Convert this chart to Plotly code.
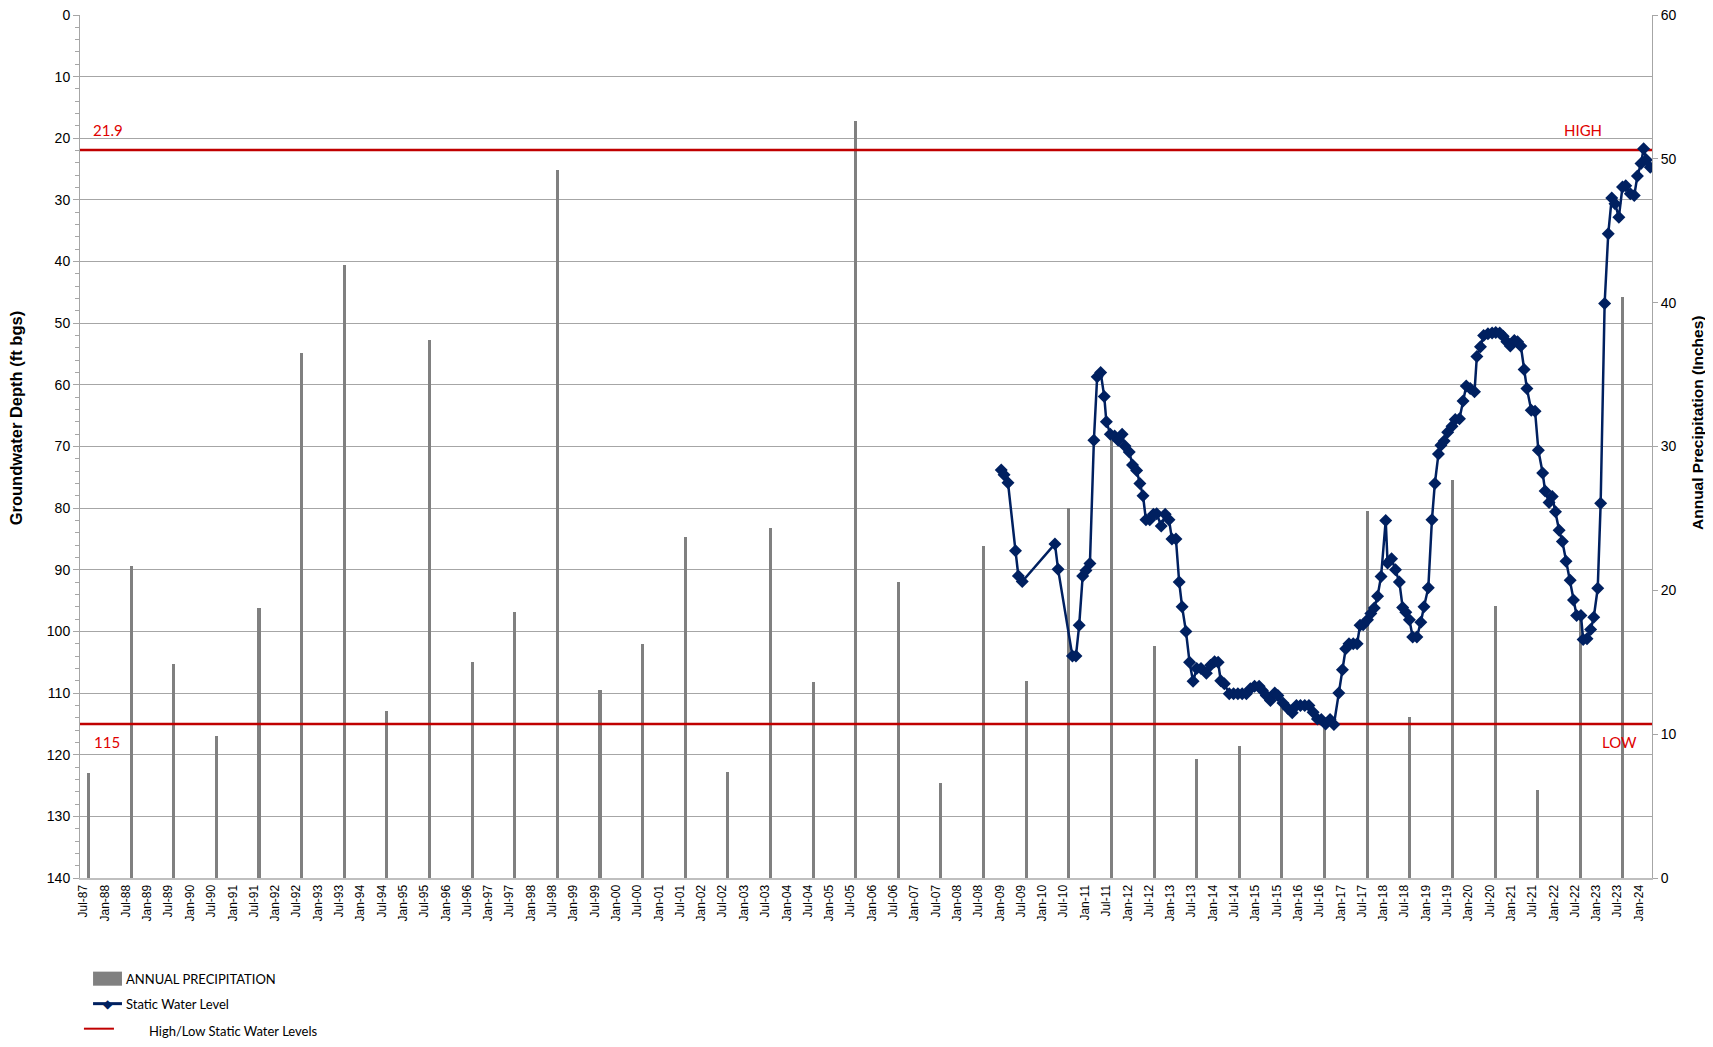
import plotly.graph_objects as go

# ---------------- data ----------------
precip_years = list(range(1987, 2024))
precip_dates = [f"{y}-08-15" for y in precip_years]
precip_inches = [7.3, 21.7, 14.9, 9.9, 18.8, 36.5, 42.6, 11.6, 37.4, 15.0,
                 18.5, 49.2, 13.1, 16.3, 23.7, 7.4, 24.3, 13.6, 52.6, 20.6,
                 6.6, 23.1, 13.7, 25.7, 30.6, 16.1, 8.3, 9.2, 12.0, 11.0,
                 25.5, 11.2, 27.7, 18.9, 6.1, 18.2, 40.4]

swl_dates = [
    "2009-01-13", "2009-02-06", "2009-03-12", "2009-05-15", "2009-06-09", "2009-07-12",
    "2010-04-18", "2010-05-15", "2010-09-15", "2010-10-15", "2010-11-12", "2010-12-12",
    "2011-01-09", "2011-02-12", "2011-03-18", "2011-04-15", "2011-05-15", "2011-06-15",
    "2011-07-03", "2011-08-06", "2011-09-12", "2011-10-12", "2011-11-15", "2011-12-09",
    "2012-01-15", "2012-02-12", "2012-03-18", "2012-04-15", "2012-05-12", "2012-06-06",
    "2012-07-09", "2012-08-09", "2012-09-06", "2012-10-15", "2012-11-18", "2012-12-21",
    "2013-01-15", "2013-02-18", "2013-03-18", "2013-04-12", "2013-05-15", "2013-06-15",
    "2013-07-15", "2013-08-15", "2013-09-21", "2013-11-06", "2013-12-12",
    "2014-01-15", "2014-02-15", "2014-03-09", "2014-04-09", "2014-05-21", "2014-06-27",
    "2014-08-03", "2014-09-09", "2014-10-15", "2014-11-18", "2014-12-24",
    "2015-02-01", "2015-03-01", "2015-04-03", "2015-05-09", "2015-06-15", "2015-07-12",
    "2015-08-24", "2015-10-06", "2015-11-12", "2015-12-18",
    "2016-01-21", "2016-02-27", "2016-04-03", "2016-05-09", "2016-06-15", "2016-07-18",
    "2016-08-24", "2016-10-01", "2016-11-03", "2016-12-15",
    "2017-01-15", "2017-02-12", "2017-03-12", "2017-04-18", "2017-05-21", "2017-06-15",
    "2017-07-12", "2017-08-18", "2017-09-15", "2017-10-15", "2017-11-12", "2017-12-12",
    "2018-01-21", "2018-02-06", "2018-03-12", "2018-04-15", "2018-05-18", "2018-06-15",
    "2018-07-12", "2018-08-12", "2018-09-09", "2018-10-15", "2018-11-18", "2018-12-15",
    "2019-01-21", "2019-02-21", "2019-03-18", "2019-04-18", "2019-05-09", "2019-06-06",
    "2019-07-06", "2019-08-12", "2019-09-09", "2019-10-15", "2019-11-15", "2019-12-12",
    "2020-01-15", "2020-02-21", "2020-03-12", "2020-04-12", "2020-05-09", "2020-06-15",
    "2020-07-21", "2020-08-21", "2020-09-24", "2020-10-24", "2020-11-24", "2020-12-24",
    "2021-01-27", "2021-02-24", "2021-03-24", "2021-04-21", "2021-05-15", "2021-06-21",
    "2021-07-24", "2021-08-21", "2021-09-27", "2021-10-18", "2021-11-21", "2021-12-18",
    "2022-01-15", "2022-02-15", "2022-03-15", "2022-04-15", "2022-05-21", "2022-06-18",
    "2022-07-15", "2022-08-21", "2022-09-09", "2022-10-12", "2022-11-12", "2022-12-09",
    "2023-01-12", "2023-02-06", "2023-03-12", "2023-04-12", "2023-05-12", "2023-06-09",
    "2023-07-12", "2023-08-12", "2023-09-09", "2023-10-18", "2023-11-21", "2023-12-18",
    "2024-01-18", "2024-02-09", "2024-03-03", "2024-04-06",
]
swl_depth_ft = [
    73.8, 74.6, 75.9, 86.9, 91.0, 91.9,
    85.8, 89.9, 104.0, 104.0, 99.0, 91.0,
    90.1, 89.0, 69.0, 58.7, 58.0, 61.9,
    66.0, 68.0, 68.3, 69.0, 68.0, 69.9,
    70.9, 73.0, 73.9, 76.0, 78.0, 81.9,
    81.9, 81.0, 80.9, 82.9, 81.0, 81.9,
    85.0, 85.0, 92.0, 96.0, 100.0, 105.0,
    108.1, 106.0, 106.0, 106.8, 105.5,
    104.9, 105.0, 108.0, 108.5, 110.1, 110.1,
    110.1, 110.1, 110.1, 109.3, 108.9,
    108.9, 109.6, 110.4, 111.2, 110.0, 110.4,
    111.6, 112.5, 113.2, 112.0,
    112.0, 112.0, 112.0, 113.1, 114.2, 114.3,
    115.0, 114.3, 115.1, 110.0,
    106.2, 102.8, 102.0, 102.0, 102.0, 99.0,
    98.9, 98.1, 97.1, 96.2, 94.3, 91.1,
    82.0, 88.9, 88.2, 90.0, 92.0, 96.1,
    96.9, 98.1, 100.9, 100.9, 98.5, 96.0,
    92.9, 81.9, 76.0, 71.2, 69.8, 69.1,
    67.7, 66.7, 65.6, 65.5, 62.6, 60.2,
    60.6, 61.1, 55.4, 53.8, 52.0, 51.7,
    51.6, 51.5, 51.6, 52.1, 53.0, 53.7,
    52.8, 53.0, 53.7, 57.5, 60.6, 64.1,
    64.3, 70.6, 74.3, 77.2, 79.1, 78.1,
    80.6, 83.6, 85.4, 88.6, 91.7, 94.9,
    97.4, 97.4, 101.3, 101.2, 99.7, 97.7,
    93.0, 79.2, 46.8, 35.5, 29.7, 30.6,
    32.8, 27.9, 27.7, 29.0, 29.3, 26.1,
    24.1, 21.7, 23.5, 24.7,
]

level_values = [21.9, 115]
level_labels_left = ["21.9", "115"]
level_labels_right = ["HIGH", "LOW"]

legend_labels = ["ANNUAL PRECIPITATION", "Static Water Level", "High/Low Static Water Levels"]

x_start, x_end = "1987-06-03", "2024-04-21"
depth_range = [140, 0]
precip_range = [0, 60]

# ---------------- styles ----------------
NAVY = "#002060"
GRAY_BAR = "#808080"
RED = "#C00000"
RED_TXT = "#E00000"
GRID = "#A6A6A6"
TICKFONT = "Liberation Sans, Arial, sans-serif"
TEXTFONT = "Lato, sans-serif"

fig = go.Figure()

fig.add_trace(go.Bar(
    x=precip_dates, y=precip_inches, name=legend_labels[0],
    marker=dict(color=GRAY_BAR, line=dict(width=0)),
    width=2.3e9, yaxis="y",
))

# high / low lines spanning the whole axis
lx, ly = [], []
for v in level_values:
    lx += [x_start, x_end, None]
    ly += [v, v, None]
fig.add_trace(go.Scatter(
    x=lx, y=ly, mode="lines", line=dict(color=RED, width=2.5),
    name=legend_labels[2], yaxis="y2", hoverinfo="skip",
))

fig.add_trace(go.Scatter(
    x=swl_dates, y=swl_depth_ft, mode="lines+markers", name=legend_labels[1],
    line=dict(color=NAVY, width=2.5),
    marker=dict(symbol="diamond", size=10, color=NAVY),
    yaxis="y2",
))

annotations = []
left_x = [0.0068, 0.0074]
right_x = [0.9695, 0.9917]
for i, v in enumerate(level_values):
    above = v < 50
    common = dict(yref="y2", y=v, showarrow=False, xref="paper",
                  yanchor="bottom" if above else "top",
                  yshift=9 if above else -7,
                  font=dict(color=RED_TXT, size=15, family=TEXTFONT))
    annotations.append(dict(x=left_x[i], text=level_labels_left[i], xanchor="left", **common))
    annotations.append(dict(x=right_x[i], text=level_labels_right[i], xanchor="right", **common))

annotations.append(dict(x=-0.0405, xref="paper", y=0.533, yref="paper",
                        xanchor="center", yanchor="middle",
                        text="<b>Groundwater Depth (ft bgs)</b>", textangle=-90,
                        showarrow=False, font=dict(size=16.5, family=TICKFONT, color="#000")))
annotations.append(dict(x=1.0285, xref="paper", y=0.527, yref="paper",
                        xanchor="center", yanchor="middle",
                        text="<b>Annual Precipitation (Inches)</b>", textangle=-90,
                        showarrow=False, font=dict(size=15.5, family=TICKFONT, color="#000")))

# ----- hand-built legend (below the plot, like the original) -----
leg_font = dict(size=13, family=TEXTFONT, color="#000")
leg_text_x = [0.0277, 0.0277, 0.0429]
leg_text_y = [-0.1166, -0.1456, -0.1769]
for t, xx, yy in zip(legend_labels, leg_text_x, leg_text_y):
    annotations.append(dict(x=xx, y=yy, xref="paper", yref="paper", text=t,
                            xanchor="left", yanchor="middle", showarrow=False,
                            font=leg_font))
annotations.append(dict(x=0.0175, y=-0.1456, xref="paper", yref="paper", text="◆",
                        xanchor="center", yanchor="middle", showarrow=False,
                        font=dict(size=12, color=NAVY, family="DejaVu Sans")))

shapes = [
    dict(type="rect", xref="paper", yref="paper", x0=0.0083, x1=0.0267,
         y0=-0.1248, y1=-0.1085, fillcolor=GRAY_BAR, line=dict(width=0)),
    dict(type="line", xref="paper", yref="paper", x0=0.0083, x1=0.0267,
         y0=-0.1456, y1=-0.1456, line=dict(color=NAVY, width=3)),
    dict(type="line", xref="paper", yref="paper", x0=0.0025, x1=0.0216,
         y0=-0.1746, y1=-0.1746, line=dict(color=RED, width=2)),
]

fig.update_layout(
    width=1697, height=1031,
    margin=dict(l=72, r=53, t=7, b=161, autoexpand=False),
    paper_bgcolor="white", plot_bgcolor="white",
    bargap=0,
    showlegend=False,
    annotations=annotations,
    shapes=shapes,
    xaxis=dict(
        type="date", range=[x_start, x_end],
        tick0="1987-07-01", dtick="M6", tickformat="%b-%y",
        tickangle=-90, ticks="", showgrid=False,
        showline=True, linecolor="#BFBFBF", linewidth=2,
        tickfont=dict(size=12, family=TICKFONT, color="#000"),
    ),
    yaxis=dict(
        range=precip_range, side="right", dtick=10, showgrid=False,
        showline=True, linecolor=GRID, linewidth=1,
        ticks="outside", ticklen=5, tickcolor=GRID,
        tickfont=dict(size=14, family=TICKFONT, color="#000"),
        ticklabeloverflow="allow", zeroline=False,
    ),
    yaxis2=dict(
        range=depth_range, side="left", overlaying="y", dtick=10,
        showgrid=True, gridcolor=GRID, gridwidth=1.3,
        showline=True, linecolor=GRID, linewidth=1,
        ticks="outside", ticklen=6, tickcolor=GRID,
        minor=dict(dtick=2, ticks="outside", ticklen=4, tickcolor=GRID, showgrid=False),
        tickfont=dict(size=14, family=TICKFONT, color="#000"),
        ticklabeloverflow="allow", zeroline=False,
    ),
)

fig.write_html("out.html")
